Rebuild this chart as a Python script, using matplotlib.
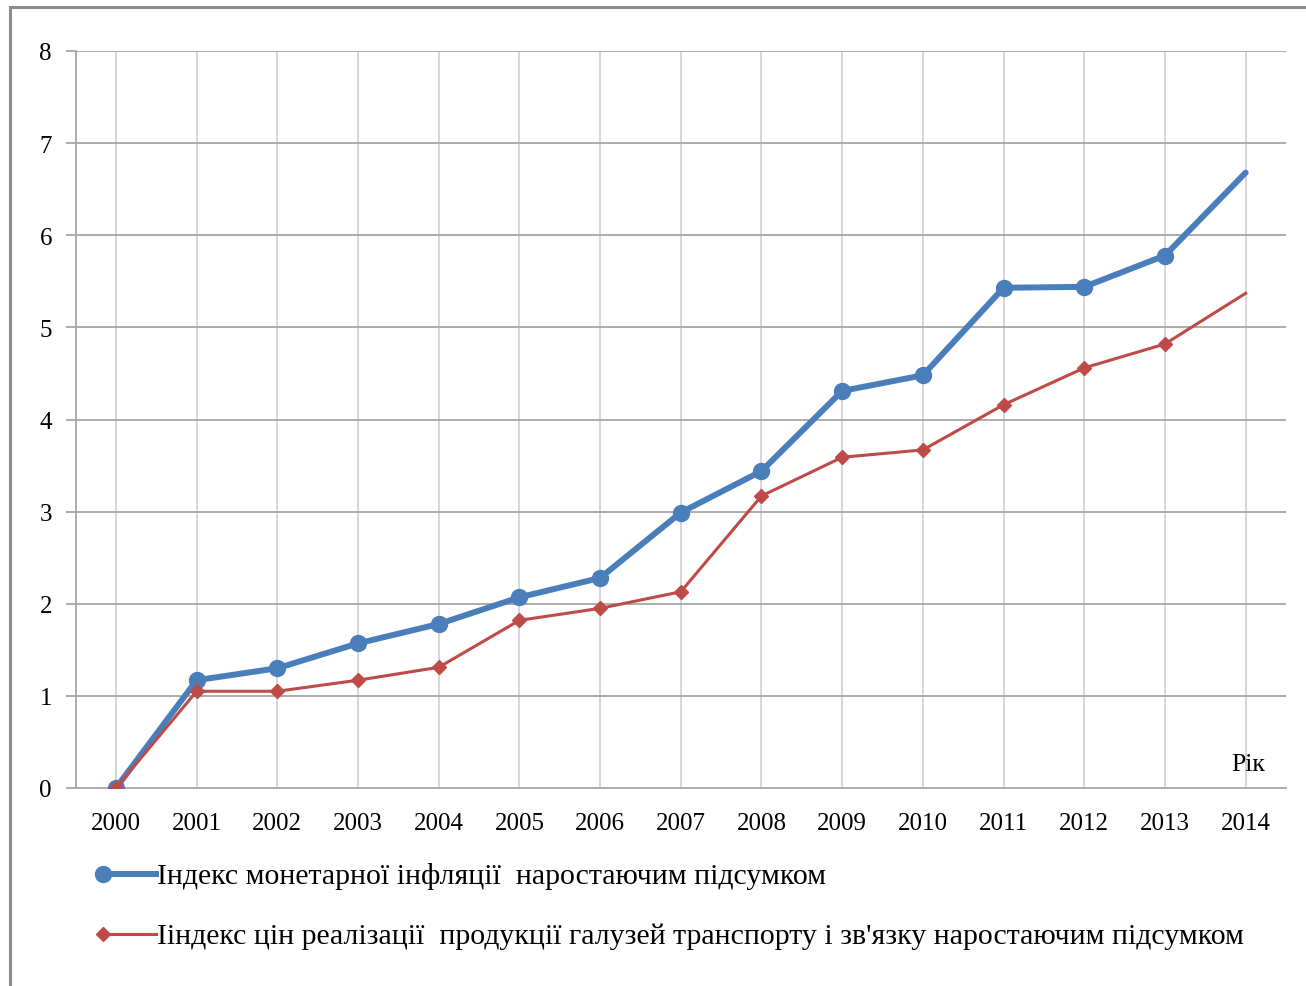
import matplotlib
matplotlib.use("Agg")
import matplotlib.pyplot as plt
from matplotlib.lines import Line2D
from matplotlib.patches import Rectangle

years = ["2000", "2001", "2002", "2003", "2004", "2005", "2006", "2007",
         "2008", "2009", "2010", "2011", "2012", "2013", "2014"]
monetary = [0.0, 1.17, 1.30, 1.57, 1.78, 2.07, 2.28, 2.99, 3.44, 4.31, 4.48,
            5.43, 5.44, 5.78, 6.68]
transport = [0.0, 1.05, 1.05, 1.17, 1.31, 1.82, 1.95, 2.13, 3.17, 3.59, 3.67,
             4.16, 4.56, 4.82, 5.37]
yticks = [0, 1, 2, 3, 4, 5, 6, 7, 8]
label_monetary = "Індекс монетарної інфляції  наростаючим підсумком"
label_transport = "Іiндекс цін реалізації  продукції галузей транспорту і зв'язку наростаючим підсумком"
axis_label = "Рік"

plt.rcParams['font.family'] = ['Liberation Serif', 'DejaVu Serif']

W, H = 1306, 987
fig = plt.figure(figsize=(W / 100, H / 100), dpi=100)

# outer frame
fig.patches.append(Rectangle((10 / W, -0.05), 1.2, (H - 8) / H + 0.05,
                             transform=fig.transFigure, fill=False,
                             edgecolor="#8c8c8c", linewidth=2.2))

ax = fig.add_axes([75.6 / W, (H - 789) / H, (1286 - 75.6) / W, (789 - 52) / H])
x = list(range(len(years)))
blue = "#4a7ebb"
red = "#be4b48"

ax.plot(x, monetary, color=blue, linewidth=4.3, marker="o", markersize=11.5,
        markevery=list(range(len(years) - 1)), zorder=3, solid_capstyle="round")
ax.plot(x, transport, color=red, linewidth=2.2, marker="D", markersize=7,
        markevery=list(range(len(years) - 1)), zorder=4)

ax.set_xlim(-0.5, len(years) - 0.5)
ax.set_ylim(0, 8)
ax.set_yticks(yticks)
ax.set_yticklabels([str(v) for v in yticks])
ax.set_xticks(x)
ax.set_xticklabels(years)

for v in yticks[1:]:
    ax.axhline(v, color="#a6a6a6", linewidth=1.3, zorder=1)
for xi in x:
    ax.axvline(xi, color="#d0d0d0", linewidth=1.2, zorder=0.5)

for s in ["top", "right"]:
    ax.spines[s].set_visible(False)
ax.spines["left"].set_color("#a6a6a6")
ax.spines["left"].set_linewidth(1.3)
ax.spines["bottom"].set_color("#a6a6a6")
ax.spines["bottom"].set_linewidth(1.3)
ax.tick_params(axis="y", length=7, width=1.3, color="#a6a6a6", labelsize=18,
               pad=10)
ax.tick_params(axis="x", length=0, labelsize=18, pad=17)
ax.set_clip_on(False)

ax.text(1.0 - 0.017, 0.018, axis_label, transform=ax.transAxes, ha="right",
        va="bottom", fontsize=18.5)

# legend
def legend_row(ypix, color, lw, marker, ms, text):
    y = 1 - ypix / H
    fig.add_artist(Line2D([103 / W, 156 / W], [y, y], transform=fig.transFigure,
                          color=color, linewidth=lw))
    fig.add_artist(Line2D([103 / W], [y], transform=fig.transFigure,
                          color=color, marker=marker, markersize=ms,
                          linestyle="none"))
    fig.text(157 / W, y - 2 / H, text, ha="left", va="center", fontsize=21.5)

legend_row(875, blue, 4.3, "o", 11.5, label_monetary)
legend_row(935, red, 2.2, "D", 7, label_transport)

fig.savefig("out.png", dpi=100)
